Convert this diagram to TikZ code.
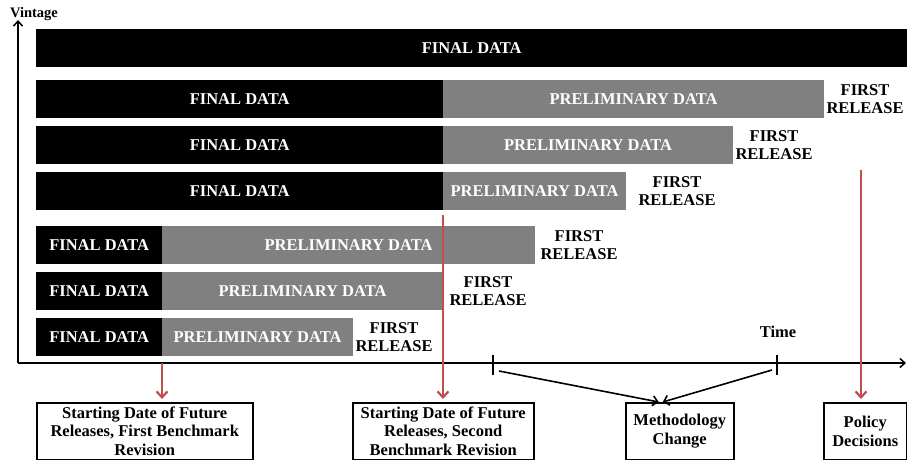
\documentclass[tikz,border=0pt]{standalone}
\usepackage{fontspec}
\setmainfont{Liberation Serif}
\usepackage{tikz}
\usetikzlibrary{arrows,arrows.meta,positioning}
\definecolor{vgray}{RGB}{128,128,128}
\definecolor{vred}{RGB}{192,80,77}
\tikzstyle{bar} = [anchor=west, minimum height=38pt, inner sep=0pt, text=white, font=\bfseries\fontsize{16.5}{18}\selectfont]
\tikzstyle{finalbar} = [bar, fill=black]
\tikzstyle{prelbar} = [bar, fill=vgray]
\tikzstyle{release} = [align=center, inner sep=0pt, font=\bfseries\fontsize{16.5}{18}\selectfont]
\tikzstyle{eventbox} = [draw, line width=1.5pt, anchor=north west, align=center, inner sep=0pt, minimum height=57pt, font=\bfseries\fontsize{16.5}{18.5}\selectfont]
\tikzstyle{redarrow} = [line width=2.2pt, -{Straight Barb[length=6pt,width=11pt]}, color=vred, shorten >=3pt]
\tikzstyle{blkarrow} = [line width=1.6pt, -{Straight Barb[length=5pt,width=10pt]}]
\tikzstyle{axis} = [line width=1.5pt, -{Straight Barb[length=5pt,width=9pt]}]

\begin{document}
\begin{tikzpicture}[x=1pt,y=-1pt]
\useasboundingbox (0,0) rectangle (907,460);

% Axes
\coordinate (o) at (18,363);
\coordinate (ytop) at (18,20);
\coordinate (xend) at (906,363);
\draw[axis] (o) -- (ytop);
\draw[axis] (o) -- (xend);
\node[font=\bfseries\fontsize{14.5}{16}\selectfont] (vint) at (34,14) {Vintage};
\node[font=\bfseries\fontsize{16.5}{18}\selectfont] (time) at (778,332) {Time};

% Vintages
\node[finalbar, minimum width=871pt] (f1) at (36,48) {FINAL DATA};

\node[finalbar, minimum width=407pt] (f2) at (36,99) {FINAL DATA};
\node[prelbar, minimum width=381pt, right=-0.5pt of f2] (p2) {PRELIMINARY DATA};
\node[release, right=2pt of p2] (r2) {FIRST\\RELEASE};

\node[finalbar, minimum width=407pt] (f3) at (36,145) {FINAL DATA};
\node[prelbar, minimum width=290pt, right=-0.5pt of f3] (p3) {PRELIMINARY DATA};
\node[release, right=2pt of p3] (r3) {FIRST\\RELEASE};

\node[finalbar, minimum width=407pt] (f4) at (36,191) {FINAL DATA};
\node[prelbar, minimum width=183pt, right=-0.5pt of f4] (p4) {PRELIMINARY DATA};
\node[release, right=12pt of p4] (r4) {FIRST\\RELEASE};

\node[finalbar, minimum width=126pt] (f5) at (36,245) {FINAL DATA};
\node[prelbar, minimum width=373pt, right=-0.5pt of f5] (p5) {PRELIMINARY DATA};
\node[release, right=5pt of p5] (r5) {FIRST\\RELEASE};

\node[finalbar, minimum width=126pt] (f6) at (36,291) {FINAL DATA};
\node[prelbar, minimum width=281pt, right=-0.5pt of f6] (p6) {PRELIMINARY DATA};
\node[release, right=6pt of p6] (r6) {FIRST\\RELEASE};

\node[finalbar, minimum width=126pt] (f7) at (36,337) {FINAL DATA};
\node[prelbar, minimum width=191pt, right=-0.5pt of f7] (p7) {PRELIMINARY DATA};
\node[release, right=2pt of p7] (r7) {FIRST\\RELEASE};

% Events
\node[eventbox, minimum width=216pt] (b1) at (36,402) {Starting Date of Future\\Releases, First Benchmark\\Revision};
\node[eventbox, minimum width=181pt] (b2) at (352,402) {Starting Date of Future\\Releases, Second\\Benchmark Revision};
\node[eventbox, minimum width=108pt] (b3) at (625,402) {Methodology\\Change};
\node[eventbox, minimum width=83pt] (b4) at (823,402) {Policy\\Decisions};

% Revision and policy arrows
\coordinate (a1) at (162,363);
\coordinate (a2) at (443,215);
\coordinate (a3) at (861,170);
\draw[redarrow] (a1) -- (a1 |- b1.north);
\draw[redarrow] (a2) -- (a2 |- b2.north);
\draw[redarrow] (a3) -- (a3 |- b4.north);

% Methodology change
\coordinate (t1) at (493,364);
\coordinate (t2) at (777,364);
\draw[line width=1.5pt] (t1) ++(0,-9) -- ++(0,20);
\draw[line width=1.5pt] (t2) ++(0,-9) -- ++(0,20);
\coordinate (m1) at (499,371);
\coordinate (m2) at (772,370);
\draw[blkarrow] (m1) -- ([xshift=-21pt]b3.north);
\draw[blkarrow] (m2) -- ([xshift=-17pt]b3.north);
\end{tikzpicture}
\end{document}
